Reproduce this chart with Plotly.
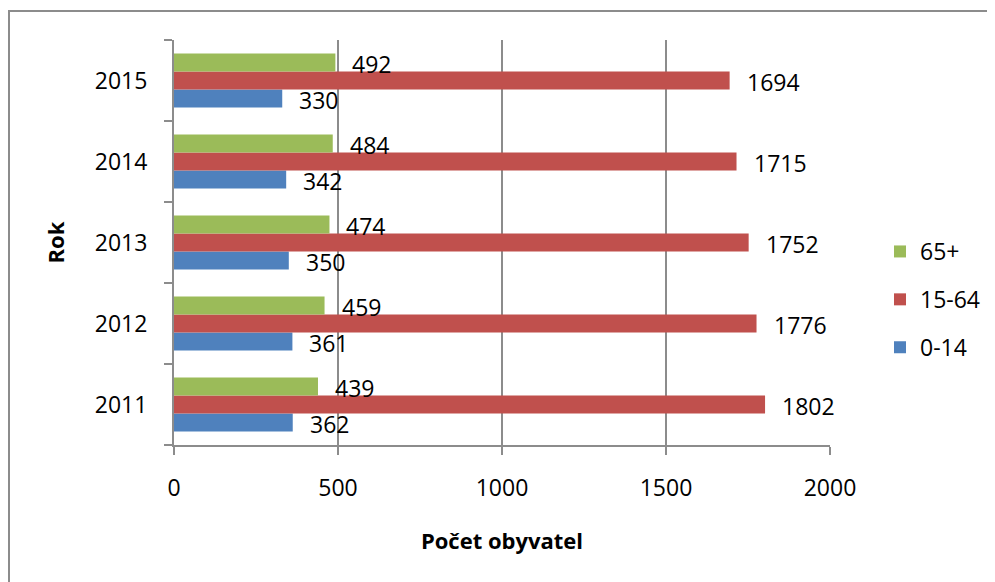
import plotly.graph_objects as go

years = ["2011", "2012", "2013", "2014", "2015"]
age_0_14 = [362, 361, 350, 342, 330]
age_15_64 = [1802, 1776, 1752, 1715, 1694]
age_65 = [439, 459, 474, 484, 492]
series_names = ["0-14", "15-64", "65+"]
series_values = [age_0_14, age_15_64, age_65]
colors = ["#4F81BD", "#C0504D", "#9BBB59"]
x_ticks = [0, 500, 1000, 1500, 2000]

# figure coordinates (page is offset 8px by the browser's body margin)
W, H = 995, 582
L, R, T, B = 166, 173, 32, 145
plot_w = W - L - R
plot_h = H - T - B
bargap = 1 / 3
cat_px = plot_h / len(years)
bar_px = cat_px * (1 - bargap) / 3

FONT = "Open Sans"
FS = 23
fig = go.Figure()
annotations = []
for i, (name, vals, col) in enumerate(zip(series_names, series_values, colors)):
    fig.add_trace(go.Bar(
        y=years, x=vals, name=name, orientation="h",
        marker=dict(color=col, line=dict(width=0)),
        legendgroup=name, legendrank=3 - i,
    ))
    for j, v in enumerate(vals):
        annotations.append(dict(
            x=v, y=j, xref="x", yref="y", text=str(v), showarrow=False,
            xanchor="left", yanchor="middle", xshift=15,
            yshift=(i - 1) * bar_px - 1,
            font=dict(family=FONT, size=FS, color="black"),
        ))

# outer chart border
shapes = [dict(
    type="rect", xref="paper", yref="paper",
    x0=(1 - L) / plot_w, x1=(1010 - L) / plot_w,
    y0=(H - B - 600) / plot_h, y1=(H - B - 3) / plot_h,
    line=dict(color="#8c8c8c", width=2), fillcolor="rgba(0,0,0,0)", layer="below",
)]

fig.update_layout(
    width=W, height=H,
    margin=dict(l=L, r=R, t=T, b=B, autoexpand=False),
    paper_bgcolor="white", plot_bgcolor="white",
    barmode="group", bargap=bargap, bargroupgap=0,
    font=dict(family=FONT, size=FS, color="black"),
    showlegend=True,
    legend=dict(
        x=(872 - L) / plot_w, y=(H - B - 222) / plot_h,
        xanchor="left", yanchor="top",
        traceorder="grouped", tracegroupgap=15,
        font=dict(family=FONT, size=FS, color="black"),
        itemwidth=30,
    ),
    annotations=annotations,
    shapes=shapes,
    xaxis=dict(
        range=[0, 2000], tickvals=x_ticks, ticktext=[str(t) for t in x_ticks],
        showgrid=True, gridcolor="#8c8c8c", gridwidth=2,
        zeroline=False, showline=True, linecolor="#8c8c8c", linewidth=2,
        ticks="outside", ticklen=8, tickcolor="#8c8c8c", tickwidth=2,
        ticklabelstandoff=13, automargin=False,
        title=dict(text="<b>Počet obyvatel</b>", font=dict(family=FONT, size=22), standoff=32),
    ),
    yaxis=dict(
        type="category", categoryorder="array", categoryarray=years,
        range=[-0.5, len(years) - 0.5], autorange=False,
        showgrid=False, zeroline=False, showline=True, linecolor="#8c8c8c", linewidth=2,
        ticks="outside", ticklen=8, tickcolor="#8c8c8c", tickwidth=2,
        tickson="boundaries", ticklabelstandoff=20, automargin=False,
        title=dict(text="<b>Rok</b>", font=dict(family=FONT, size=22), standoff=24),
    ),
)

fig.write_html("out.html")
